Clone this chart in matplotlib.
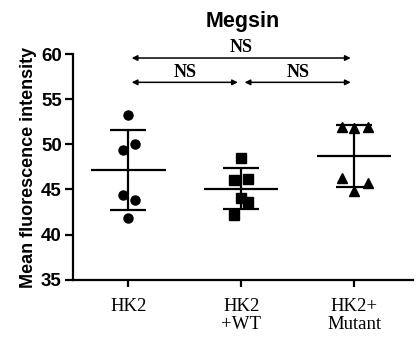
import numpy as np
import matplotlib
matplotlib.use("Agg")
import matplotlib.pyplot as plt

# groups and values
groups = ["HK2", "HK2\n+WT", "HK2+\nMutant"]
markers = ["o", "s", "^"]

hk2 = [53.3, 49.4, 50.0, 44.4, 43.8, 41.8]
hk2_dx = [0.0, -0.05, 0.06, -0.05, 0.06, 0.0]

wt = [48.5, 46.0, 46.2, 44.1, 43.6, 42.2]
wt_dx = [0.0, -0.06, 0.06, 0.0, 0.06, -0.06]

mutant = [51.9, 51.85, 51.9, 46.3, 44.8, 45.7]
mutant_dx = [-0.11, 0.0, 0.12, -0.11, 0.0, 0.12]

values = [hk2, wt, mutant]
offsets = [hk2_dx, wt_dx, mutant_dx]

# significance brackets: (from, to, y, label)
comparisons = [(0, 2, 59.6, "NS"), (0, 1, 56.9, "NS"), (1, 2, 56.9, "NS")]

fig = plt.figure(figsize=(4.17, 3.38), dpi=100)
ax = fig.add_axes([0.175, 0.173, 0.815, 0.666])

for i, (vals, dx, m) in enumerate(zip(values, offsets, markers)):
    vals = np.array(vals)
    ax.plot(i + np.array(dx), vals, m, color="black", ms=6.5, ls="none",
            zorder=3, clip_on=False)
    mean = vals.mean()
    sd = vals.std(ddof=1)
    ax.hlines(mean, i - 0.33, i + 0.33, color="black", lw=1.6)
    ax.hlines([mean - sd, mean + sd], i - 0.16, i + 0.16, color="black", lw=1.6)
    ax.vlines(i, mean - sd, mean + sd, color="black", lw=1.6)

for a, b, y, lab in comparisons:
    pad = 0.03
    ax.annotate("", xy=(b - pad, y), xytext=(a + pad, y),
                arrowprops=dict(arrowstyle="<|-|>", color="black", lw=1.1,
                                mutation_scale=8, shrinkA=0, shrinkB=0),
                annotation_clip=False)
    ax.text((a + b) / 2, y + 0.2, lab, ha="center", va="bottom",
            fontfamily="Liberation Serif", fontweight="bold", fontsize=13)

ax.set_xlim(-0.49, 2.52)
ax.set_ylim(35, 60)
ax.set_yticks([35, 40, 45, 50, 55, 60])
ax.set_xticks(range(len(groups)))
ax.set_xticklabels(groups, fontfamily="Liberation Serif", fontsize=13.5,
                   linespacing=1.1)
for t in ax.get_yticklabels():
    t.set_fontfamily("Liberation Sans")
    t.set_fontweight("bold")
    t.set_fontsize(13.5)

ax.spines["top"].set_visible(False)
ax.spines["right"].set_visible(False)
ax.spines["left"].set_linewidth(1.6)
ax.spines["bottom"].set_linewidth(1.6)
ax.tick_params(axis="y", direction="out", length=6, width=1.6, pad=2)
ax.tick_params(axis="x", direction="out", length=5, width=1.6, pad=8)

ax.set_ylabel("Mean fluorescence intensity", fontfamily="Liberation Sans",
              fontweight="bold", fontsize=13, labelpad=3)
ax.set_title("Megsin", fontfamily="Liberation Sans", fontweight="bold",
             fontsize=15.5, pad=20)

fig.savefig("out.png", dpi=100)
